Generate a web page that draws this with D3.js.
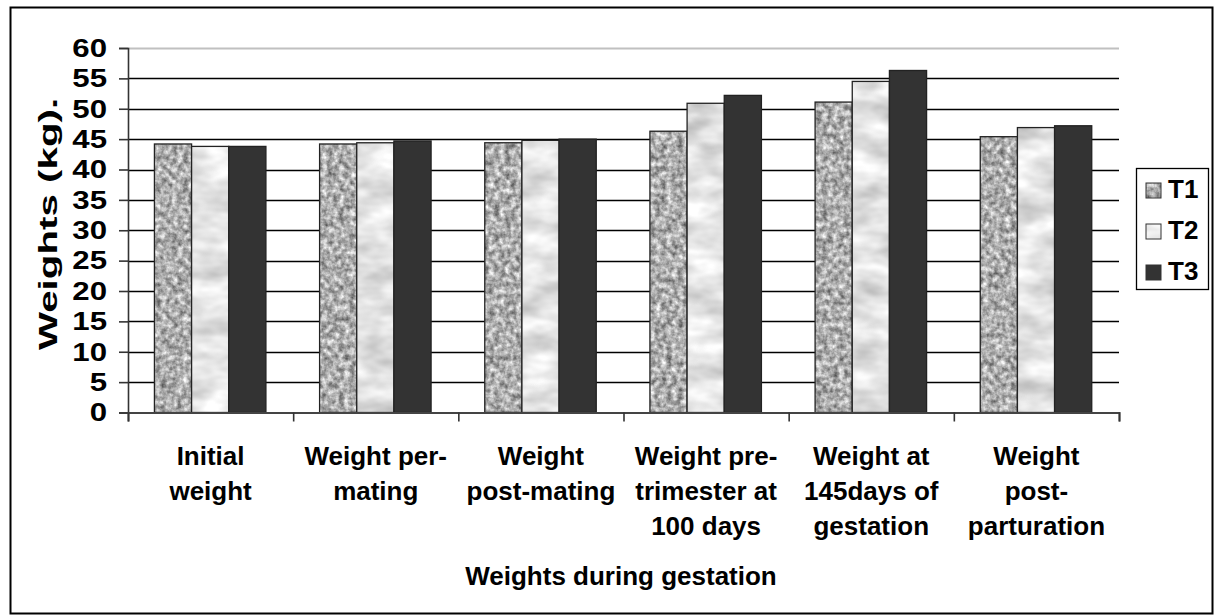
<!DOCTYPE html>
<html>
<head>
<meta charset="utf-8">
<script src="https://cdn.jsdelivr.net/npm/d3@7"></script>
<style>
  html, body { margin: 0; padding: 0; background: #fff; }
  svg { display: block; }
  text { font-family: "Liberation Sans", Arial, sans-serif; font-weight: bold; fill: #000; }
</style>
</head>
<body>
<svg id="chart" width="1215" height="615"></svg>
<script>
const categories = [
  ["Initial", "weight"],
  ["Weight per-", "mating"],
  ["Weight", "post-mating"],
  ["Weight pre-", "trimester at", "100 days"],
  ["Weight at", "145days of", "gestation"],
  ["Weight", "post-", "parturation"]
];
const seriesNames = ["T1", "T2", "T3"];
const T1 = [44.2, 44.2, 44.4, 46.3, 51.1, 45.4];
const T2 = [43.8, 44.4, 44.8, 50.9, 54.5, 46.9];
const T3 = [43.8, 44.7, 45.0, 52.2, 56.3, 47.2];
const yTicks = [0, 5, 10, 15, 20, 25, 30, 35, 40, 45, 50, 55, 60];
const yTitle = "Weights (kg).";
const xTitle = "Weights during gestation";

const seriesValues = [T1, T2, T3];
const svg = d3.select("#chart");
const FONT = "'Liberation Sans', Arial, sans-serif";

// defs: textures
const defs = svg.append("defs");
function texture(id, freq, oct, lo, hi, seed) {
  const f = defs.append("filter").attr("id", id)
    .attr("x", 0).attr("y", 0).attr("width", 1).attr("height", 1)
    .attr("color-interpolation-filters", "sRGB");
  f.append("feTurbulence").attr("type", "fractalNoise")
    .attr("baseFrequency", freq).attr("numOctaves", oct).attr("seed", seed).attr("result", "noise");
  const s = (hi - lo) * 2.2, o = lo - (hi - lo) * 0.6;
  f.append("feColorMatrix").attr("in", "noise").attr("type", "matrix")
    .attr("values", `${s} 0 0 0 ${o}  ${s} 0 0 0 ${o}  ${s} 0 0 0 ${o}  0 0 0 0 1`)
    .attr("result", "gray");
  f.append("feComposite").attr("in", "gray").attr("in2", "SourceGraphic").attr("operator", "in");
}
texture("tex1", "0.18", 3, 0.48, 0.88, 3);
texture("tex2", "0.025 0.05", 3, 0.8, 0.98, 7);

const fills = ["#999", "#e6e6e6", "#333333"];
const filters = ["url(#tex1)", "url(#tex2)", null];

// outer border
svg.append("rect").attr("x", 10.5).attr("y", 7.5).attr("width", 1202).attr("height", 606)
  .attr("fill", "#fff").attr("stroke", "#000").attr("stroke-width", 2);

const plot = { left: 128, right: 1119, top: 48, bottom: 412.5 };

const y = d3.scaleLinear().domain([0, 60]).range([plot.bottom, plot.top]);
const x0 = d3.scaleBand().domain(d3.range(categories.length)).range([plot.left, plot.right]).padding(0);
const bw = x0.bandwidth();
const x1 = d3.scaleBand().domain(seriesNames).range([bw * 0.16, bw * 0.835]).padding(0);

// gridlines
svg.append("g").selectAll("line").data(yTicks.filter(d => d > 0)).join("line")
  .attr("x1", plot.left).attr("x2", plot.right)
  .attr("y1", d => Math.round(y(d)) + 0.5).attr("y2", d => Math.round(y(d)) + 0.5)
  .attr("stroke", d => d === 60 ? "#c0c0c0" : "#000")
  .attr("stroke-width", d => d === 60 ? 2 : 1.6);

// bars
const gBars = svg.append("g");
categories.forEach((c, i) => {
  seriesNames.forEach((s, j) => {
    const v = seriesValues[j][i];
    const xx = x0(i) + x1(s);
    const r = gBars.append("rect")
      .attr("x", xx).attr("y", y(v))
      .attr("width", x1.bandwidth()).attr("height", y(0) - y(v))
      .attr("fill", fills[j]);
    if (filters[j]) r.attr("filter", filters[j]);
    gBars.append("rect")
      .attr("x", xx).attr("y", y(v))
      .attr("width", x1.bandwidth()).attr("height", y(0) - y(v))
      .attr("fill", "none").attr("stroke", "#222").attr("stroke-width", 1.3);
  });
});

// y axis
const tickStretch = 1.2;
const yAxis = d3.axisLeft(y).tickValues(yTicks).tickSize(9).tickPadding(12);
const gy = svg.append("g").attr("transform", `translate(${plot.left},0)`).call(yAxis);
gy.select(".domain").attr("stroke", "#333").attr("stroke-width", 1.6);
gy.selectAll(".tick line").attr("stroke", "#333").attr("stroke-width", 1.6);
gy.selectAll(".tick text").style("font-size", "26px").style("font-family", FONT)
  .style("font-weight", "bold").attr("fill", "#000")
  .attr("x", -21 / tickStretch).attr("transform", `scale(${tickStretch},1)`);

// x axis
const xb = d3.scaleLinear().domain([0, categories.length]).range([plot.left, plot.right]);
const xAxis = d3.axisBottom(xb).tickValues(d3.range(categories.length + 1)).tickSize(9).tickFormat("");
const gx = svg.append("g").attr("transform", `translate(0,${plot.bottom})`).call(xAxis);
gx.select(".domain").attr("stroke", "#444").attr("stroke-width", 2);
gx.selectAll(".tick line").attr("stroke", "#333").attr("stroke-width", 1.6);

// category labels
const gl = svg.append("g");
categories.forEach((lines, i) => {
  const t = gl.append("text").attr("text-anchor", "middle").style("font-size", "26px");
  lines.forEach((ln, k) => {
    t.append("tspan").attr("x", x0(i) + bw / 2).attr("y", 465 + k * 35).text(ln);
  });
});

// axis titles
svg.append("text").attr("x", 621).attr("y", 585)
  .attr("text-anchor", "middle").style("font-size", "26px").text(xTitle);
svg.append("text").attr("transform", `translate(57,224) rotate(-90) scale(1.55,1)`)
  .attr("text-anchor", "middle").style("font-size", "26px").text(yTitle);

// legend
const lg = svg.append("g");
lg.append("rect").attr("x", 1136.5).attr("y", 168.5).attr("width", 72).attr("height", 121)
  .attr("fill", "#fff").attr("stroke", "#000").attr("stroke-width", 1.3);
seriesNames.forEach((s, j) => {
  const top = 183 + j * 41;
  const r = lg.append("rect").attr("x", 1146).attr("y", top).attr("width", 15).attr("height", 15)
    .attr("fill", fills[j]);
  if (filters[j]) r.attr("filter", filters[j]);
  lg.append("rect").attr("x", 1146).attr("y", top).attr("width", 15).attr("height", 15)
    .attr("fill", "none").attr("stroke", "#333").attr("stroke-width", 1);
  lg.append("text").attr("x", 1168).attr("y", 198 + j * 41).style("font-size", "26px").text(s);
});
</script>
</body>
</html>
